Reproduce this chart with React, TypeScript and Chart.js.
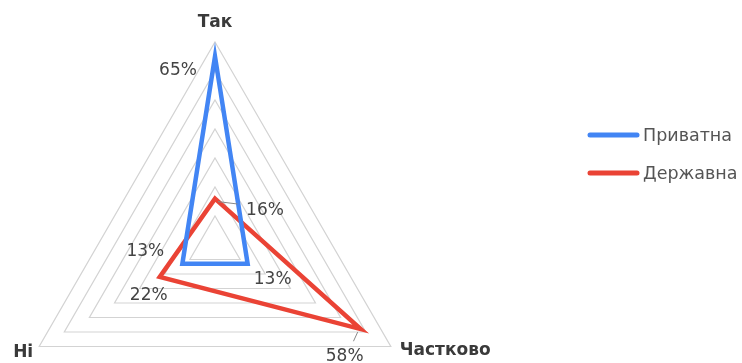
import React, { useEffect, useRef } from "react";
import { Chart, registerables } from "chart.js";

Chart.register(...registerables);

const categories = ["Так", "Частково", "Ні"];
const privateValues = [65, 13, 13];
const stateValues = [16, 58, 22];
const seriesNames = ["Приватна", "Державна"];
const tickMax = 70;
const tickStep = 10;

const BLUE = "#4285F4";
const RED = "#EA4335";
const FONT = "'DejaVu Sans', Verdana, sans-serif";

// label offsets (style only): [datasetIndex][pointIndex] => [dx, dy, leader]
const labelOffsets: [number, number, boolean][][] = [
  [[-37, 14, false], [25, 16, false], [-37, -12, false]],
  [[50, 12, true], [-16, 27, true], [-11, 19, false]],
];

const geometryPlugin = {
  id: "geometry",
  afterLayout(chart: any) {
    const s = chart.scales.r;
    s.xCenter = 215;
    s.yCenter = 245;
    s.drawingArea = 203;
  },
};

const overlayPlugin = {
  id: "overlay",
  afterDraw(chart: any) {
    const ctx = chart.ctx;
    const s = chart.scales.r;
    ctx.save();
    // point labels
    ctx.fillStyle = "#3a3a3a";
    ctx.font = `bold 17px ${FONT}`;
    ctx.textBaseline = "middle";
    categories.forEach((c, i) => {
      const p = s.getPointPosition(i, s.drawingArea);
      let x = p.x, y = p.y;
      let align: CanvasTextAlign = "center";
      if (i === 0) { y = p.y - 19; }
      if (i === 1) { x = p.x + 9; y = p.y + 4; align = "left"; }
      if (i === 2) { x = p.x - 6; y = p.y + 6; align = "right"; }
      ctx.textAlign = align;
      ctx.fillText(c, x, y);
    });
    // data labels
    ctx.font = `17px ${FONT}`;
    ctx.textAlign = "center";
    chart.data.datasets.forEach((ds: any, di: number) => {
      const meta = chart.getDatasetMeta(di);
      meta.data.forEach((pt: any, pi: number) => {
        const [dx, dy, leader] = labelOffsets[di][pi];
        const tx = pt.x + dx;
        const ty = pt.y + dy;
        if (leader) {
          ctx.strokeStyle = "#888";
          ctx.lineWidth = 1;
          ctx.beginPath();
          ctx.moveTo(pt.x + Math.sign(dx) * 3, pt.y + 3);
          ctx.lineTo(pt.x + dx * 0.45, pt.y + dy * 0.45);
          ctx.stroke();
        }
        ctx.fillStyle = "#444";
        ctx.fillText(ds.data[pi] + "%", tx, ty);
      });
    });
    // legend
    ctx.font = `17.5px ${FONT}`;
    ctx.textAlign = "left";
    chart.data.datasets.forEach((ds: any, di: number) => {
      const y = 135 + di * 38;
      ctx.strokeStyle = ds.borderColor;
      ctx.lineWidth = 5;
      ctx.lineCap = "round";
      ctx.beginPath();
      ctx.moveTo(590, y);
      ctx.lineTo(637, y);
      ctx.stroke();
      ctx.fillStyle = "#555";
      ctx.fillText(ds.label, 643, y + 1);
    });
    ctx.restore();
  },
};

export default function App() {
  const ref = useRef<HTMLCanvasElement>(null);
  useEffect(() => {
    const chart = new Chart(ref.current!, {
      type: "radar",
      data: {
        labels: categories,
        datasets: [
          {
            label: seriesNames[0],
            data: privateValues,
            borderColor: BLUE,
            backgroundColor: "transparent",
            borderWidth: 4.5,
            pointRadius: 0,
            fill: false,
          },
          {
            label: seriesNames[1],
            data: stateValues,
            borderColor: RED,
            backgroundColor: "transparent",
            borderWidth: 4.5,
            pointRadius: 0,
            fill: false,
          },
        ],
      },
      options: {
        animation: false,
        responsive: false,
        plugins: { legend: { display: false }, tooltip: { enabled: false } },
        elements: { line: { tension: 0, borderJoinStyle: "miter" } },
        scales: {
          r: {
            min: 0,
            max: tickMax,
            ticks: { display: false, stepSize: tickStep },
            grid: { color: "#d3d3d3", lineWidth: 1.2 },
            angleLines: { display: false },
            pointLabels: { display: false },
          },
        },
      },
      plugins: [geometryPlugin, overlayPlugin],
    });
    return () => chart.destroy();
  }, []);
  return (
    <div style={{ position: "fixed", left: 0, top: 0, width: 742, height: 363, background: "#fff" }}>
      <canvas ref={ref} width={742} height={363} />
    </div>
  );
}
